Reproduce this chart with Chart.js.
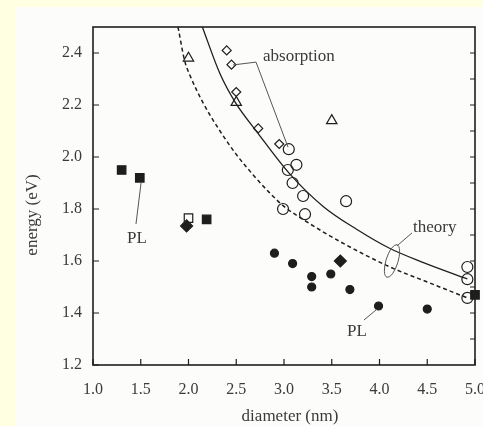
<!DOCTYPE html>
<html>
<head>
<meta charset="utf-8">
<script src="https://cdn.jsdelivr.net/npm/chart.js@4.4.0/dist/chart.umd.min.js"></script>
<style>
  html, body { margin: 0; padding: 0; }
  body { width: 483px; height: 426px; background: #ffffe1; position: relative; overflow: hidden; }
  #wrap { position: absolute; left: 16px; top: 7px; width: 467px; height: 419px; background: #fcfcfb; }
  canvas { display: block; }
</style>
</head>
<body>
<div id="wrap"><canvas id="chart" width="467" height="419"></canvas></div>
<script>
// axes: diameter (nm) vs energy (eV)
const xTicks = [1.0, 1.5, 2.0, 2.5, 3.0, 3.5, 4.0, 4.5, 5.0];
const yTicks = [1.2, 1.4, 1.6, 1.8, 2.0, 2.2, 2.4];
const yMinorTicks = [1.3, 1.4, 1.5, 1.6, 1.7, 1.8, 1.9, 2.0, 2.1, 2.2, 2.3, 2.4];

// absorption measurements
const absDiamondX = [2.40, 2.45, 2.50, 2.73, 2.95];
const absDiamondY = [2.41, 2.355, 2.25, 2.11, 2.05];
const absTriangleX = [2.0, 2.5, 3.5];
const absTriangleY = [2.38, 2.21, 2.14];
const absCircleX = [3.05, 3.13, 3.04, 3.09, 3.20, 3.65, 2.99, 3.22, 4.92, 4.92, 4.92];
const absCircleY = [2.03, 1.97, 1.95, 1.90, 1.85, 1.83, 1.80, 1.78, 1.577, 1.53, 1.458];

// PL measurements
const plSquareX = [1.30, 1.49, 2.19, 5.0];
const plSquareY = [1.95, 1.92, 1.76, 1.47];
const plOpenSquareX = [2.0];
const plOpenSquareY = [1.765];
const plDiamondX = [1.98, 3.59];
const plDiamondY = [1.735, 1.60];
const plCircleX = [2.90, 3.09, 3.29, 3.29, 3.49, 3.69, 3.99, 4.50];
const plCircleY = [1.63, 1.59, 1.54, 1.50, 1.55, 1.49, 1.427, 1.415];

// theory curves
const theoryUpperX = [2.145, 2.33, 2.49, 2.73, 3.06, 3.41, 3.76, 4.11, 4.46, 4.92];
const theoryUpperY = [2.50, 2.32, 2.21, 2.09, 1.935, 1.81, 1.722, 1.648, 1.594, 1.531];
const theoryLowerX = [1.89, 1.96, 2.02, 2.15, 2.33, 2.50, 2.68, 2.85, 3.00, 3.22, 3.59, 4.11, 4.53, 4.92];
const theoryLowerY = [2.50, 2.37, 2.31, 2.21, 2.10, 2.01, 1.93, 1.862, 1.81, 1.755, 1.674, 1.577, 1.515, 1.458];

const ink = '#1e1e1e';
const textInk = '#3a3a3a';
const serif = "'Liberation Serif', 'DejaVu Serif', serif";

const pts = (xs, ys) => xs.map((x, i) => ({ x, y: ys[i] }));

const marker = (data, style, radius, filled) => ({
    data,
    pointStyle: style,
    pointRadius: radius,
    pointBorderWidth: 1.2,
    pointBorderColor: ink,
    pointBackgroundColor: filled ? ink : 'rgba(0,0,0,0)',
    showLine: false,
    clip: false
});

const curve = (data, dash) => ({
    data,
    showLine: true,
    pointRadius: 0,
    borderColor: ink,
    borderWidth: dash ? 1.5 : 1.3,
    borderDash: dash ? [4, 3] : [],
    cubicInterpolationMode: 'monotone'
});

// labels with their leader lines, in data units
const notes = [
    { text: 'absorption', x: 2.78, y: 2.385, align: 'left', line: [[2.466, 2.354], [2.707, 2.365], [3.042, 2.038]] },
    { text: 'theory', x: 4.351, y: 1.727, align: 'left', line: [[4.183, 1.658], [4.34, 1.708]] },
    { text: 'PL', x: 1.461, y: 1.688, align: 'center', line: [[1.503, 1.90], [1.45, 1.742]] },
    { text: 'PL', x: 3.764, y: 1.327, align: 'center', line: [[3.838, 1.373], [3.974, 1.415]] }
];
const ellipseAt = { x: 4.131, y: 1.60 };

const frame = {
    id: 'frame',
    afterDatasetsDraw(chart) {
        const { ctx, chartArea: a, scales: { x, y } } = chart;
        ctx.save();
        ctx.strokeStyle = ink;
        ctx.lineWidth = 1.6;
        ctx.strokeRect(a.left, a.top, a.right - a.left, a.bottom - a.top);

        // inward tick marks
        ctx.lineWidth = 1.2;
        ctx.beginPath();
        xTicks.forEach(v => {
            const px = x.getPixelForValue(v);
            ctx.moveTo(px, a.bottom);
            ctx.lineTo(px, a.bottom - 6);
        });
        yTicks.forEach(v => {
            const py = y.getPixelForValue(v);
            ctx.moveTo(a.left, py);
            ctx.lineTo(a.left + 6, py);
        });
        yMinorTicks.forEach(v => {
            const py = y.getPixelForValue(v);
            ctx.moveTo(a.right, py);
            ctx.lineTo(a.right - 5, py);
        });
        ctx.stroke();

        // leader lines and labels
        ctx.strokeStyle = '#555';
        ctx.lineWidth = 1;
        ctx.fillStyle = textInk;
        ctx.font = '17px ' + serif;
        ctx.textBaseline = 'middle';
        notes.forEach(n => {
            ctx.beginPath();
            n.line.forEach(([lx, ly], i) => {
                const px = x.getPixelForValue(lx), py = y.getPixelForValue(ly);
                if (i === 0) ctx.moveTo(px, py); else ctx.lineTo(px, py);
            });
            ctx.stroke();
            ctx.textAlign = n.align;
            ctx.fillText(n.text, x.getPixelForValue(n.x), y.getPixelForValue(n.y));
        });
        ctx.beginPath();
        ctx.ellipse(x.getPixelForValue(ellipseAt.x), y.getPixelForValue(ellipseAt.y), 6, 17, 0.3, 0, Math.PI * 2);
        ctx.stroke();

        // axis titles
        ctx.font = '17px ' + serif;
        ctx.textAlign = 'center';
        ctx.fillText('diameter (nm)', 274, 410);
        ctx.translate(17, 208);
        ctx.rotate(-Math.PI / 2);
        ctx.fillText('energy (eV)', 0, 0);
        ctx.restore();
    }
};

const tickFont = { family: serif, size: 16 };

new Chart(document.getElementById('chart'), {
    type: 'scatter',
    data: {
        datasets: [
            curve(pts(theoryUpperX, theoryUpperY), false),
            curve(pts(theoryLowerX, theoryLowerY), true),
            marker(pts(absDiamondX, absDiamondY), 'rectRot', 4.5, false),
            marker(pts(absTriangleX, absTriangleY), 'triangle', 6, false),
            marker(pts(absCircleX, absCircleY), 'circle', 5.5, false),
            marker(pts(plSquareX, plSquareY), 'rect', 6, true),
            marker(pts(plOpenSquareX, plOpenSquareY), 'rect', 6, false),
            marker(pts(plDiamondX, plDiamondY), 'rectRot', 6, true),
            marker(pts(plCircleX, plCircleY), 'circle', 4, true)
        ]
    },
    options: {
        responsive: false,
        animation: false,
        devicePixelRatio: 1,
        layout: { padding: { left: 0, top: 20, right: 8, bottom: 0 } },
        plugins: { legend: { display: false }, tooltip: { enabled: false } },
        scales: {
            x: {
                type: 'linear',
                min: 1,
                max: 5,
                grid: { display: false, drawTicks: false },
                border: { display: false },
                ticks: { font: tickFont, color: textInk, padding: 15, maxRotation: 0, callback: v => v.toFixed(1) },
                afterBuildTicks: s => { s.ticks = xTicks.map(v => ({ value: v })); },
                afterFit: s => { s.height = 61; s.paddingLeft = 0; s.paddingRight = 0; }
            },
            y: {
                type: 'linear',
                min: 1.2,
                max: 2.5,
                grid: { display: false, drawTicks: false },
                border: { display: false },
                ticks: { font: tickFont, color: textInk, padding: 11, callback: v => v.toFixed(1) },
                afterBuildTicks: s => { s.ticks = yTicks.map(v => ({ value: v })); },
                afterFit: s => { s.width = 77; s.paddingTop = 0; s.paddingBottom = 0; }
            }
        }
    },
    plugins: [frame]
});
</script>
</body>
</html>
